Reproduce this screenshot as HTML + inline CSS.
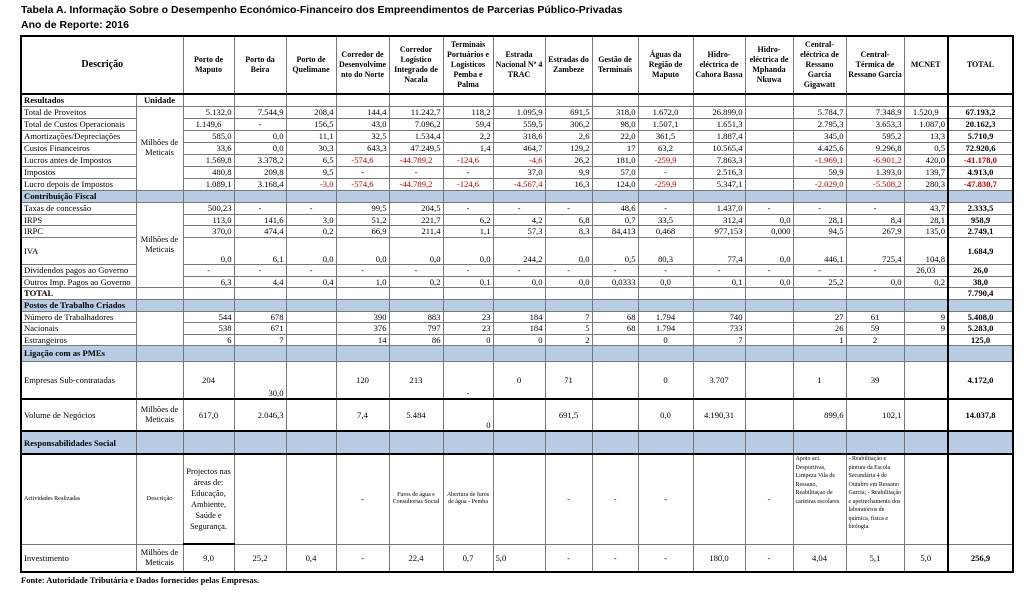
<!DOCTYPE html>
<html><head><meta charset="utf-8"><style>
body{margin:0;width:1024px;height:597px;background:#fff;overflow:hidden;font-family:"Liberation Serif",serif;}
.t1{position:absolute;left:21px;top:4px;font:bold 10.5px "Liberation Sans",sans-serif;color:#000;}
.t2{position:absolute;left:21px;top:19px;font:bold 10.5px "Liberation Sans",sans-serif;color:#000;}
table{position:absolute;left:20px;top:35px;border-collapse:collapse;table-layout:fixed;border:2px solid #000;font-size:8.6px;color:#000;}
td{border:1px solid #777;padding:0 2px;text-align:right;white-space:nowrap;overflow:hidden;line-height:10px;}
td.l{text-align:left}
td.c{text-align:center}
td.u{text-align:center;white-space:normal;font-size:8.4px}
tr.h td{font-weight:bold;text-align:center;white-space:normal;font-size:8px;line-height:10px;border-bottom:2px solid #000;padding:0 1px}
tr.h td.d{font-size:10px}
tr.b td{background:#b8cce4;font-weight:bold;text-align:left}
td.T{border-left:2px solid #000;font-weight:bold;text-align:center}
.r{color:#c00000}
tr.tb td{border-bottom:2px solid #000}
td.bt{vertical-align:bottom}
td.sm{font-size:6px;white-space:normal;line-height:7.5px;text-align:center}
td.sl{font-size:6px;white-space:normal;line-height:8.5px;text-align:left;vertical-align:top}
.foot{position:absolute;left:21px;top:575px;font:bold 8.5px "Liberation Serif",serif;}
</style></head><body>
<div class="t1">Tabela A. Informação Sobre o Desempenho Económico-Financeiro dos Empreendimentos de Parcerias Público-Privadas</div>
<div class="t2">Ano de Reporte: 2016</div>
<table>
<colgroup><col style="width:115px"><col style="width:47px"><col style="width:51px"><col style="width:52px"><col style="width:50px"><col style="width:53px"><col style="width:54px"><col style="width:50px"><col style="width:52px"><col style="width:47px"><col style="width:46px"><col style="width:55px"><col style="width:52px"><col style="width:48px"><col style="width:53px"><col style="width:58px"><col style="width:44px"><col style="width:65px"></colgroup>
<tr class="h" style="height:58px"><td class="d" colspan="2">Descrição</td><td>Porto de Maputo</td><td>Porto da Beira</td><td>Porto de Quelimane</td><td>Corredor de Desenvolvime nto do Norte</td><td>Corredor Logístico Integrado de Nacala</td><td>Terminais Portuários e Logísticos Pemba e Palma</td><td>Estrada Nacional Nº 4 TRAC</td><td>Estradas do Zambeze</td><td>Gestão de Terminais</td><td>Águas da Região de Maputo</td><td>Hidro-eléctrica de Cahora Bassa</td><td>Hidro-eléctrica de Mphanda Nkuwa</td><td>Central-eléctrica de Ressano Garcia Gigawatt</td><td>Central-Térmica de Ressano Garcia</td><td>MCNET</td><td style="border-left:2px solid #000">TOTAL</td></tr>
<tr style="height:12px"><td class="l"><b>Resultados</b></td><td class="c"><b>Unidade</b></td><td></td><td></td><td></td><td></td><td></td><td></td><td></td><td></td><td></td><td></td><td></td><td></td><td></td><td></td><td></td><td class="T"></td></tr>
<tr style="height:12px"><td class="l">Total de Proveitos</td><td class="u" rowspan="7">Milhões de Meticais</td><td>5.132,0</td><td>7.544,9</td><td>208,4</td><td>144,4</td><td>11.242,7</td><td>118,2</td><td>1.095,9</td><td>691,5</td><td>318,0</td><td class="c">1.672,0</td><td>26.899,0</td><td></td><td>5.784,7</td><td>7.348,9</td><td class="c">1.520,9</td><td class="T">67.193,2</td></tr>
<tr style="height:12px"><td class="l">Total de Custos Operacionais</td><td class="c">1.149,6</td><td class="c">-</td><td>156,5</td><td>43,0</td><td>7.096,2</td><td>59,4</td><td>559,5</td><td>306,2</td><td>98,0</td><td class="c">1.507,1</td><td>1.651,3</td><td></td><td>2.795,3</td><td>3.653,3</td><td>1.087,0</td><td class="T">20.162,3</td></tr>
<tr style="height:12px"><td class="l">Amortizações/Depreciações</td><td>585,0</td><td>0,0</td><td>11,1</td><td>32,5</td><td>1.534,4</td><td>2,2</td><td>318,6</td><td>2,6</td><td>22,0</td><td class="c">361,5</td><td>1.887,4</td><td></td><td>345,0</td><td>595,2</td><td>13,3</td><td class="T">5.710,9</td></tr>
<tr style="height:12px"><td class="l">Custos Financeiros</td><td>33,6</td><td>0,0</td><td>30,3</td><td>643,3</td><td>47.249,5</td><td>1,4</td><td>464,7</td><td>129,2</td><td>17</td><td class="c">63,2</td><td>10.565,4</td><td></td><td>4.425,6</td><td>9.296,8</td><td>0,5</td><td class="T">72.920,6</td></tr>
<tr style="height:12px"><td class="l">Lucros antes de Impostos</td><td>1.569,8</td><td>3.378,2</td><td>6,5</td><td class="c r">-574,6</td><td class="c r">-44.789,2</td><td class="c r">-124,6</td><td class="r">-4,6</td><td>26,2</td><td>181,0</td><td class="c r">-259,9</td><td>7.863,3</td><td></td><td class="r">-1.969,1</td><td class="r">-6.901,2</td><td>420,0</td><td class="T r">-41.178,0</td></tr>
<tr style="height:12px"><td class="l">Impostos</td><td>480,8</td><td>209,8</td><td>9,5</td><td class="c">-</td><td class="c">-</td><td class="c">-</td><td>37,0</td><td>9,9</td><td>57,0</td><td class="c">-</td><td>2.516,3</td><td></td><td>59,9</td><td>1.393,0</td><td>139,7</td><td class="T">4.913,0</td></tr>
<tr style="height:12px"><td class="l">Lucro depois de Impostos</td><td>1.089,1</td><td>3.168,4</td><td class="r">-3,0</td><td class="c r">-574,6</td><td class="c r">-44.789,2</td><td class="c r">-124,6</td><td class="r">-4.567,4</td><td>16,3</td><td>124,0</td><td class="c r">-259,9</td><td>5.347,1</td><td></td><td class="r">-2.029,0</td><td class="r">-5.508,2</td><td>280,3</td><td class="T r">-47.830,7</td></tr>
<tr class="b" style="height:12px"><td>Contribuição Fiscal</td><td></td><td></td><td></td><td></td><td></td><td></td><td></td><td></td><td></td><td></td><td></td><td></td><td></td><td></td><td></td><td></td><td class="T"></td></tr>
<tr style="height:12px"><td class="l">Taxas de concessão</td><td class="u" rowspan="6">Milhões de Meticais</td><td>500,23</td><td class="c">-</td><td class="c">-</td><td>99,5</td><td>204,5</td><td class="c">-</td><td class="c">-</td><td class="c">-</td><td>48,6</td><td class="c">-</td><td>1.437,0</td><td class="c">-</td><td class="c">-</td><td class="c">-</td><td>43,7</td><td class="T">2.333,5</td></tr>
<tr style="height:11px"><td class="l">IRPS</td><td>113,0</td><td>141,6</td><td>3,0</td><td>51,2</td><td>221,7</td><td>6,2</td><td>4,2</td><td>6,8</td><td>0,7</td><td class="c">33,5</td><td>312,4</td><td>0,0</td><td>28,1</td><td>8,4</td><td>28,1</td><td class="T">958,9</td></tr>
<tr style="height:12px"><td class="l">IRPC</td><td>370,0</td><td>474,4</td><td>0,2</td><td>66,9</td><td>211,4</td><td>1,1</td><td>57,3</td><td>8,3</td><td>84,413</td><td class="c">0,468</td><td>977,153</td><td>0,000</td><td>94,5</td><td>267,9</td><td>135,0</td><td class="T">2.749,1</td></tr>
<tr style="height:27px"><td class="l">IVA</td><td class="bt">0,0</td><td class="bt">6,1</td><td class="bt">0,0</td><td class="bt">0,0</td><td class="bt">0,0</td><td class="bt">0,0</td><td class="bt">244,2</td><td class="bt">0,0</td><td class="bt">0,5</td><td class="bt c">80,3</td><td class="bt">77,4</td><td class="bt">0,0</td><td class="bt">446,1</td><td class="bt">725,4</td><td class="bt">104,8</td><td class="T">1.684,9</td></tr>
<tr style="height:12px"><td class="l">Dividendos pagos ao Governo</td><td class="c">-</td><td class="c">-</td><td class="c">-</td><td class="c">-</td><td class="c">-</td><td class="c">-</td><td class="c">-</td><td class="c">-</td><td class="c">-</td><td class="c">-</td><td class="c">-</td><td class="c">-</td><td class="c">-</td><td class="c">-</td><td class="c">26,03</td><td class="T">26,0</td></tr>
<tr style="height:11px"><td class="l">Outros Imp. Pagos ao Governo</td><td>6,3</td><td>4,4</td><td>0,4</td><td>1,0</td><td>0,2</td><td>0,1</td><td>0,0</td><td>0,0</td><td>0,0333</td><td class="c">0,0</td><td>0,1</td><td>0,0</td><td>25,2</td><td>0,0</td><td>0,2</td><td class="T">38,0</td></tr>
<tr style="height:12px"><td class="l"><b>TOTAL</b></td><td></td><td></td><td></td><td></td><td></td><td></td><td></td><td></td><td></td><td></td><td></td><td></td><td></td><td></td><td></td><td></td><td class="T">7.790,4</td></tr>
<tr class="b" style="height:12px"><td>Postos de Trabalho Criados</td><td></td><td></td><td></td><td></td><td></td><td></td><td></td><td></td><td></td><td></td><td></td><td></td><td></td><td></td><td></td><td></td><td class="T"></td></tr>
<tr style="height:11px"><td class="l">Número de Trabalhadores</td><td rowspan="3"></td><td>544</td><td>678</td><td></td><td>390</td><td>883</td><td>23</td><td>184</td><td>7</td><td>68</td><td class="c">1.794</td><td>740</td><td></td><td>27</td><td class="c">61</td><td>9</td><td class="T">5.408,0</td></tr>
<tr style="height:12px"><td class="l">Nacionais</td><td>538</td><td>671</td><td></td><td>376</td><td>797</td><td>23</td><td>184</td><td>5</td><td>68</td><td class="c">1.794</td><td>733</td><td></td><td>26</td><td class="c">59</td><td>9</td><td class="T">5.283,0</td></tr>
<tr style="height:10px"><td class="l">Estrangeiros</td><td>6</td><td>7</td><td></td><td>14</td><td>86</td><td>0</td><td>0</td><td>2</td><td></td><td class="c">0</td><td>7</td><td></td><td>1</td><td class="c">2</td><td></td><td class="T">125,0</td></tr>
<tr class="b" style="height:16px"><td>Ligação com as PMEs</td><td></td><td></td><td></td><td></td><td></td><td></td><td></td><td></td><td></td><td></td><td></td><td></td><td></td><td></td><td></td><td></td><td class="T"></td></tr>
<tr class="tb" style="height:38px"><td class="l">Empresas Sub-contratadas</td><td></td><td class="c">204</td><td class="bt">30,0</td><td></td><td class="c">120</td><td class="c">213</td><td class="c bt">-</td><td class="c">0</td><td class="c">71</td><td></td><td class="c">0</td><td class="c">3.707</td><td></td><td class="c">1</td><td class="c">39</td><td></td><td class="T">4.172,0</td></tr>
<tr class="tb" style="height:32px"><td class="l">Volume de Negócios</td><td class="u">Milhões de Meticais</td><td class="c">617,0</td><td>2.046,3</td><td></td><td class="c">7,4</td><td class="c">5.484</td><td class="bt">0</td><td></td><td class="c">691,5</td><td></td><td class="c">0,0</td><td class="c">4.190,31</td><td></td><td>899,6</td><td>102,1</td><td></td><td class="T">14.037,8</td></tr>
<tr class="b tb" style="height:23px"><td>Responsabilidades Social</td><td></td><td></td><td></td><td></td><td></td><td></td><td></td><td></td><td></td><td></td><td></td><td></td><td></td><td></td><td></td><td></td><td class="T"></td></tr>
<tr style="height:90px"><td class="l" style="font-size:6px">Actividades Realizadas</td><td class="c" style="font-size:6.5px">Descrição</td><td class="u" style="border-bottom:2px solid #000;line-height:11px">Projectos nas áreas de: Educação, Ambiente, Saúde e Segurança.</td><td></td><td></td><td class="c">-</td><td class="sm">Furos de água e Consultorias Social</td><td class="sm">Abertura de furos de água - Pemba</td><td></td><td class="c">-</td><td class="c">-</td><td class="c">-</td><td></td><td class="c">-</td><td class="sl">Apoio act. Desportivas, Limpeza Vila de Ressano, Reabilitaçao de carteiras escolares</td><td class="sl">- Reabilitação e pintura da Escola Secundária 4 de Outubro em Ressano Garcia; - Reabilitação e apetrechamento dos laboratórios de química, física e biologia.</td><td></td><td class="T"></td></tr>
<tr style="height:28px"><td class="l">Investimento</td><td class="u">Milhões de Meticais</td><td class="c">9,0</td><td class="c">25,2</td><td class="c">0,4</td><td class="c">-</td><td class="c">22,4</td><td class="c">0,7</td><td class="l">5,0</td><td class="c">-</td><td class="c">-</td><td class="c">-</td><td class="c">180,0</td><td class="c">-</td><td class="c">4,04</td><td class="c">5,1</td><td class="c">5,0</td><td class="T">256,9</td></tr>
</table>
<div class="foot">Fonte: Autoridade Tributária e Dados fornecidos pelas Empresas.</div>
</body></html>
